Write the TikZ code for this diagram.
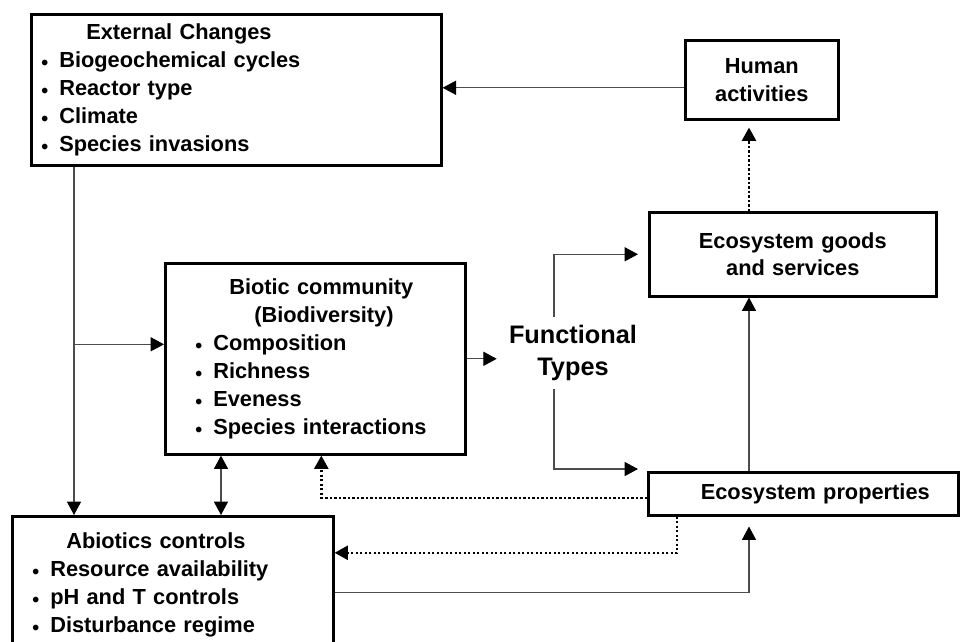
\documentclass[tikz,border=0pt]{standalone}
\usepackage{fontspec}
\setmainfont{Liberation Sans}
\usetikzlibrary{arrows.meta,calc}

\newcommand{\bul}{\makebox[0.45cm][l]{\raisebox{-1.5pt}{\fontsize{14}{14}\selectfont\textbullet}}}

\tikzset{
  box/.style={draw, line width=1.8pt, anchor=north west, align=left,
    inner ysep=0pt, font=\fontsize{15.5}{19.8}\selectfont\bfseries},
  cbox/.style={box, align=center},
  conn/.style={line width=0.8pt, draw=black!70,
    -{Triangle[length=9.5pt,width=10pt,color=black]}},
  biconn/.style={line width=0.8pt, draw=black!70,
    {Triangle[length=9.5pt,width=10pt,color=black]}-{Triangle[length=9.5pt,width=10pt,color=black]}},
  dotconn/.style={line width=1.8pt, dash pattern=on 1.6pt off 1.6pt,
    -{Triangle[length=9.5pt,width=10pt]}}
}

\begin{document}
\begin{tikzpicture}[x=0.025cm, y=-0.025cm]

  \useasboundingbox (0,0) rectangle (960,641);

  %External changes
  \node [box, inner xsep=0.25cm, text width=9.75cm, minimum height=3.775cm]
    (ext) at (30,13) {
      \hspace*{1.125cm}External Changes\\
      \bul Biogeochemical cycles\\
      \bul Reactor type\\
      \bul Climate\\
      \bul Species invasions};

  %Human activities
  \node [cbox, inner xsep=0.25cm, text width=3.325cm, minimum height=1.975cm]
    (human) at (684,39) {Human\\activities};

  %Ecosystem goods
  \node [cbox, inner xsep=0.25cm, text width=6.675cm, minimum height=2.1cm]
    (goods) at (648,211) {Ecosystem goods\\and services};

  %Biotic community
  \node [box, inner xsep=0.75cm, text width=6cm, minimum height=4.775cm]
    (biotic) at (164,262) {
      \hspace*{0.85cm}Biotic community\\
      \hspace*{1.475cm}(Biodiversity)\\
      \bul Composition\\
      \bul Richness\\
      \bul Eveness\\
      \bul Species interactions};

  %Functional types
  \node [align=center, inner xsep=0.3cm, inner ysep=0.2cm,
    font=\fontsize{18}{23}\selectfont\bfseries]
    (functional) at (573,353) {Functional\\Types};

  %Ecosystem properties
  \node [cbox, inner xsep=0.25cm, text width=7.25cm, minimum height=1.075cm]
    (props) at (647,471) {\hspace*{0.6cm}Ecosystem properties};

  %Abiotics controls
  \node [box, inner xsep=0.5cm, text width=7.025cm, minimum height=3.425cm]
    (abiotic) at (11,515) {
      \hspace*{0.85cm}Abiotics controls\\
      \bul Resource availability\\
      \bul pH and T controls\\
      \bul Disturbance regime};

  %Helper points
  \coordinate (col) at (749,0);
  \coordinate (fork) at (554,0);
  \coordinate (trunk) at ($(ext.south west)+(44,0)$);
  \coordinate (branch) at ($(biotic.west)+(0,-14.5)$);
  \coordinate (hw) at ($(human.west)+(0,8)$);
  \coordinate (hs) at ($(human.south -| col)+(0,7)$);
  \coordinate (gin) at ($(goods.west)+(-10,0)$);
  \coordinate (pnw) at ($(props.north west)+(-9,-2)$);
  \coordinate (pin) at ($(props.south -| col)+(0,10)$);
  \coordinate (ae) at ($(abiotic.east)+(0,8)$);
  \coordinate (bs) at ($(biotic.south west)+(57,0)$);

  %External changes to biotic and abiotic
  \draw [conn] (trunk) -- (trunk |- abiotic.north);
  \draw [conn] (trunk |- branch) -- (branch);

  %Human activities back to external changes
  \draw [conn] (hw) -- (hw -| ext.east);

  %Goods to human activities
  \draw [dotconn] (goods.north -| col) -- (hs);

  %Biotic and abiotic
  \draw [biconn] (bs) -- (bs |- abiotic.north);

  %Functional types
  \draw [conn] (biotic.east) -- (biotic.east -| functional.west);
  \draw [conn] (functional.north -| fork) |- (gin);
  \draw [conn] (functional.south -| fork) |- (pnw);

  %Ecosystem properties
  \draw [conn] (props.north -| col) -- (goods.south -| col);
  \draw [conn] (ae) -| (pin);
  \draw [dotconn] ($(props.west)+(0,4)$) -| ($(biotic.south)+(6,0)$);
  \draw [dotconn] ($(props.south west)+(30,0)$) |- ($(abiotic.east)+(0,-32)$);

\end{tikzpicture}
\end{document}
